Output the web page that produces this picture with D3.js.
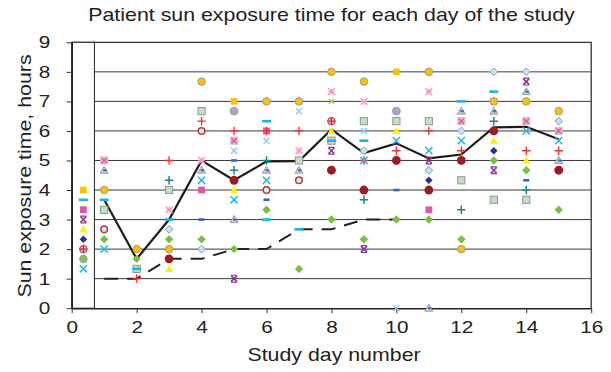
<!DOCTYPE html>
<html>
<head>
<meta charset="utf-8">
<script src="https://cdn.jsdelivr.net/npm/d3@7"></script>
<style>
  body { margin: 0; background: #fff; }
  text { font-family: "Liberation Sans", Arial, sans-serif; fill: #222; }
</style>
</head>
<body>
<div id="chart"></div>
<script>
// points are [study day, hours]; one list per marker style
const greenDiamond = [[1,2.33],[2,1.67],[3,2.33],[4,2.33],[5,2],[6,3.33],[7,1.33],[8,3],[9,2.33],[10,3],[11,3],[12,2.33],[13,5],[14,4.67],[15,3.33]];
const greenSquare = [[1,3.33],[2,1.33],[3,4],[4,6.67],[7,5],[8,5.67],[9,6.33],[10,6.33],[11,6.33],[12,4.33],[13,3.67],[14,3.67]];
const pinkSquare = [[4,4],[6,6],[11,3.33],[13,7]];
const orangeCircle = [[1,4],[2,2],[3,2],[4,7.67],[6,7],[7,7],[8,8],[9,7.67],[11,8],[12,2],[13,7],[14,7],[15,6.67]];
const yellowSquare = [[5,7],[10,8]];
const cyanDash = [[1,3.67],[2,1.33],[3,3],[6,6.33],[6,3],[7,2.67],[8,5.67],[9,5.67],[12,7],[13,7.33]];
const blueDash = [[4,3],[5,5],[6,3.67],[10,4],[14,4.33]];
const pinkSquareX = [[1,5],[5,5.67],[12,6.33],[14,6.33],[15,6]];
const purpleX = [[5,1],[8,5.33],[9,2],[11,5],[13,4.67],[14,7.67]];
const yellowTriangle = [[3,1.33],[5,4],[8,6],[10,6],[13,5.67],[14,5]];
const navyDiamond = [[11,4.33],[13,5.33]];
const cyanX = [[1,2],[4,4.33],[5,3.67],[6,4.33],[9,5],[10,5.67],[11,5.33],[12,5.67],[14,6],[15,5.67]];
const lightBlueX = [[5,5.33],[6,5.67],[7,6.67],[9,6],[10,0]];
const redCircleOutline = [[1,2.67],[4,6],[6,4],[7,4.33]];
const redCirclePlus = [[8,6.33]];
const purpleCircle = [[5,6.67],[10,6.67]];
const blueTriangle = [[1,4.67],[4,4.67],[5,3],[6,4.67],[7,4.67],[11,0],[12,6.67],[13,6.67],[14,7.33],[15,5]];
const redPlus = [[2,1],[3,5],[4,6.33],[5,6],[6,6],[7,6],[9,5],[10,5.33],[11,6],[12,5.33],[14,5.33],[15,5.33]];
const tealPlus = [[3,4.33],[5,4.67],[6,5],[9,3.67],[12,3.33],[13,6.33],[14,4]];
const pinkStar = [[3,3.33],[4,5],[7,5.33],[8,7.33],[9,7],[11,7.33]];
const lightBlueDiamond = [[3,2.67],[4,2],[9,5.33],[11,4.67],[12,6],[13,8],[14,8],[15,6.33]];
const maroonCircle = [[3,1.67],[5,4.33],[8,4.67],[9,4],[10,5],[11,4],[12,5],[13,6],[15,4.67]];
const limeX = [[8,7]];

const lineDays = [1,2,3,4,5,6,7,8,9,10,11,12,13,14,15];
const meanHours = [3.67,1.67,3,5,4.33,4.97,4.98,6.05,5.25,5.58,5.07,5.2,6.12,6.14,5.72];
const lowDays = [1,2,3,4,5,6,7,8,9,10];
const lowHours = [1,1,1.67,1.67,2,2,2.67,2.67,3,3];

const legendTypes = ['yellowSquare','cyanDash','pinkSquare','purpleX','yellowTriangle','navyDiamond','redCirclePlus','greenCircle','cyanX'];

const xTicks = [0,2,4,6,8,10,12,14,16];
const yTicks = [0,1,2,3,4,5,6,7,8,9];

const series = [
  ['greenDiamond', greenDiamond], ['greenSquare', greenSquare], ['pinkSquare', pinkSquare],
  ['orangeCircle', orangeCircle], ['yellowSquare', yellowSquare], ['blueTriangle', blueTriangle],
  ['purpleCircle', purpleCircle], ['redCircleOutline', redCircleOutline], ['redCirclePlus', redCirclePlus],
  ['maroonCircle', maroonCircle], ['lightBlueDiamond', lightBlueDiamond], ['navyDiamond', navyDiamond],
  ['yellowTriangle', yellowTriangle], ['pinkSquareX', pinkSquareX], ['cyanDash', cyanDash],
  ['blueDash', blueDash], ['redPlus', redPlus], ['tealPlus', tealPlus], ['pinkStar', pinkStar],
  ['purpleX', purpleX], ['cyanX', cyanX], ['lightBlueX', lightBlueX], ['limeX', limeX],
];

const W = 611, H = 372;
const SX = 1.22; // the text in the picture is wide, stretch it

const x = d3.scaleLinear().domain([0, 16]).range([71.7, 591.2]);
const y = d3.scaleLinear().domain([0, 9]).range([308.2, 42.3]);

const svg = d3.select('#chart').append('svg')
  .attr('width', W)
  .attr('height', H);

function cross(g, s, color, w) {
  g.append('path').attr('d', `M${-s},${-s}L${s},${s}M${-s},${s}L${s},${-s}`)
    .attr('stroke', color).attr('stroke-width', w).attr('fill', 'none');
}
function plus(g, s, color, w) {
  g.append('path').attr('d', `M${-s},0L${s},0M0,${-s}L0,${s}`)
    .attr('stroke', color).attr('stroke-width', w).attr('fill', 'none');
}
function square(g, s, fill, stroke) {
  g.append('rect').attr('x', -s).attr('y', -s).attr('width', 2 * s).attr('height', 2 * s)
    .attr('fill', fill).attr('stroke', stroke || 'none');
}
function diamond(g, s, fill, stroke) {
  g.append('path').attr('d', `M0,${-s}L${s},0L0,${s}L${-s},0Z`)
    .attr('fill', fill).attr('stroke', stroke || 'none');
}

function marker(g, type) {
  switch (type) {
    case 'orangeCircle':
      g.append('circle').attr('r', 3.8).attr('fill', '#ffc000').attr('stroke', '#9c9c9c'); break;
    case 'yellowSquare': square(g, 3.3, '#ffc000'); break;
    case 'cyanDash':
      g.append('rect').attr('x', -4.5).attr('y', -1.3).attr('width', 9).attr('height', 2.6).attr('fill', '#19b4e8'); break;
    case 'blueDash':
      g.append('rect').attr('x', -3).attr('y', -1.3).attr('width', 6).attr('height', 2.6).attr('fill', '#3a62c0'); break;
    case 'pinkSquare': square(g, 3.4, '#e256a8'); break;
    case 'pinkSquareX':
      square(g, 3.6, '#f4a9d2', '#c8c8c8'); cross(g, 2.6, '#e0559f', 1.2); break;
    case 'purpleX':
      cross(g, 3, '#95308f', 1.6);
      g.append('path').attr('d', 'M-3,-3.4L3,-3.4M-3,3.4L3,3.4').attr('stroke', '#95308f').attr('stroke-width', 1.2); break;
    case 'yellowTriangle':
      g.append('path').attr('d', 'M0,-4L4,3L-4,3Z').attr('fill', '#fff000'); break;
    case 'navyDiamond': diamond(g, 3.8, '#2b3190'); break;
    case 'redCirclePlus':
      g.append('circle').attr('r', 3.8).attr('fill', '#f2b0b6').attr('stroke', '#c0394a');
      plus(g, 3.8, '#d22a3a', 1.2); break;
    case 'greenCircle':
      g.append('circle').attr('r', 3.8).attr('fill', '#80c060').attr('stroke', '#a0a0a0'); break;
    case 'cyanX': cross(g, 3.6, '#1cb8e8', 1.5); break;
    case 'lightBlueX': cross(g, 3, '#8ccbf5', 1.4); break;
    case 'limeX': cross(g, 2.6, '#a8d05a', 1.4); break;
    case 'greenSquare': square(g, 3.6, '#c4dfc3', '#959595'); break;
    case 'redCircleOutline':
      g.append('circle').attr('r', 3.3).attr('fill', '#dbe9f1').attr('stroke', '#b33a3a').attr('stroke-width', 1.5); break;
    case 'greenDiamond': diamond(g, 4.2, '#77c043'); break;
    case 'blueTriangle':
      g.append('path').attr('d', 'M0,-4L4,3L-4,3Z').attr('fill', '#d4d8e4').attr('stroke', '#9a9a9a');
      g.append('rect').attr('x', -1).attr('y', -1).attr('width', 3.5).attr('height', 2.2).attr('fill', '#3c6cc8'); break;
    case 'redPlus': plus(g, 4.2, '#ff2a2a', 1.3); break;
    case 'tealPlus': plus(g, 4.2, '#14868c', 1.5); break;
    case 'pinkStar':
      cross(g, 3.4, '#ff95cc', 1.5); plus(g, 3, '#ff95cc', 1.2); break;
    case 'lightBlueDiamond': diamond(g, 3.9, '#c6e4ef', '#8aa0a8'); break;
    case 'maroonCircle':
      g.append('circle').attr('r', 4.4).attr('fill', '#9c1c22'); break;
    case 'purpleCircle':
      g.append('circle').attr('r', 3.9).attr('fill', '#b5a2c8').attr('stroke', '#9c9c9c'); break;
  }
}

// gridlines
svg.append('g')
  .selectAll('line')
  .data(yTicks.filter((d) => d > 0 && d < 9))
  .enter()
  .append('line')
    .attr('x1', x(0)).attr('x2', x(16))
    .attr('y1', (d) => y(d)).attr('y2', (d) => y(d))
    .attr('stroke', '#3a3a3a').attr('stroke-width', 1);

// frame top and right
svg.append('path')
  .attr('d', `M${x(0)},${y(9)}H${x(16)}V${y(0)}`)
  .attr('fill', 'none').attr('stroke', '#333').attr('stroke-width', 1.3);

// legend box (symbols only)
const legend = svg.append('g');
legend.append('rect')
  .attr('x', x(0)).attr('y', y(9))
  .attr('width', x(0.7) - x(0)).attr('height', y(0) - y(9))
  .attr('fill', '#fff').attr('stroke', '#222').attr('stroke-width', 1);
legendTypes.forEach((t, i) => {
  const g = legend.append('g').attr('transform', `translate(${x(0.36)},${190 + i * 9.85})`);
  marker(g, t);
});

// axes
const xAxis = svg.append('g')
  .attr('transform', `translate(0,${y(0)})`)
  .call(d3.axisBottom(x).tickValues(xTicks).tickSize(5).tickSizeOuter(0));
const yAxis = svg.append('g')
  .attr('transform', `translate(${x(0)},0)`)
  .call(d3.axisLeft(y).tickValues(yTicks).tickSize(5).tickSizeOuter(0));

[xAxis, yAxis].forEach((a) => {
  a.select('.domain').attr('stroke', '#222').attr('stroke-width', 1.6);
  a.selectAll('.tick line').attr('stroke', '#333');
  a.selectAll('.tick text')
    .style('font-family', '"Liberation Sans", Arial, sans-serif')
    .style('font-size', '17px')
    .attr('fill', '#222');
});
xAxis.selectAll('.tick text').attr('y', 13).attr('transform', `scale(${SX},1)`);
yAxis.selectAll('.tick text').attr('x', -17.5).attr('transform', `scale(${SX},1)`);

// lines
const line = d3.line().x((d) => x(d[0])).y((d) => y(d[1]));
svg.append('path')
  .datum(lowDays.map((d, i) => [d, lowHours[i]]))
  .attr('d', line)
  .attr('fill', 'none').attr('stroke', '#222').attr('stroke-width', 2)
  .attr('stroke-dasharray', '14,9');
svg.append('path')
  .datum(lineDays.map((d, i) => [d, meanHours[i]]))
  .attr('d', line)
  .attr('fill', 'none').attr('stroke', '#1c1c1c').attr('stroke-width', 2.2);

// markers
series.forEach(([type, pts]) => {
  svg.append('g')
    .selectAll('g')
    .data(pts)
    .enter()
    .append('g')
      .attr('transform', (d) => `translate(${x(d[0])},${y(d[1])})`)
      .each(function () { marker(d3.select(this), type); });
});

// titles
function label(txt, tx, ty, rot) {
  svg.append('text')
    .attr('transform', `translate(${tx},${ty})` + (rot ? ` rotate(${rot})` : '') + ` scale(${SX},1)`)
    .attr('text-anchor', 'middle')
    .style('font-size', '17.5px')
    .text(txt);
}
label('Patient sun exposure time for each day of the study', 331.5, 21, 0);
label('Study day number', 334, 361, 0);
label('Sun exposure time, hours', 31, 176, -90);
</script>
</body>
</html>
